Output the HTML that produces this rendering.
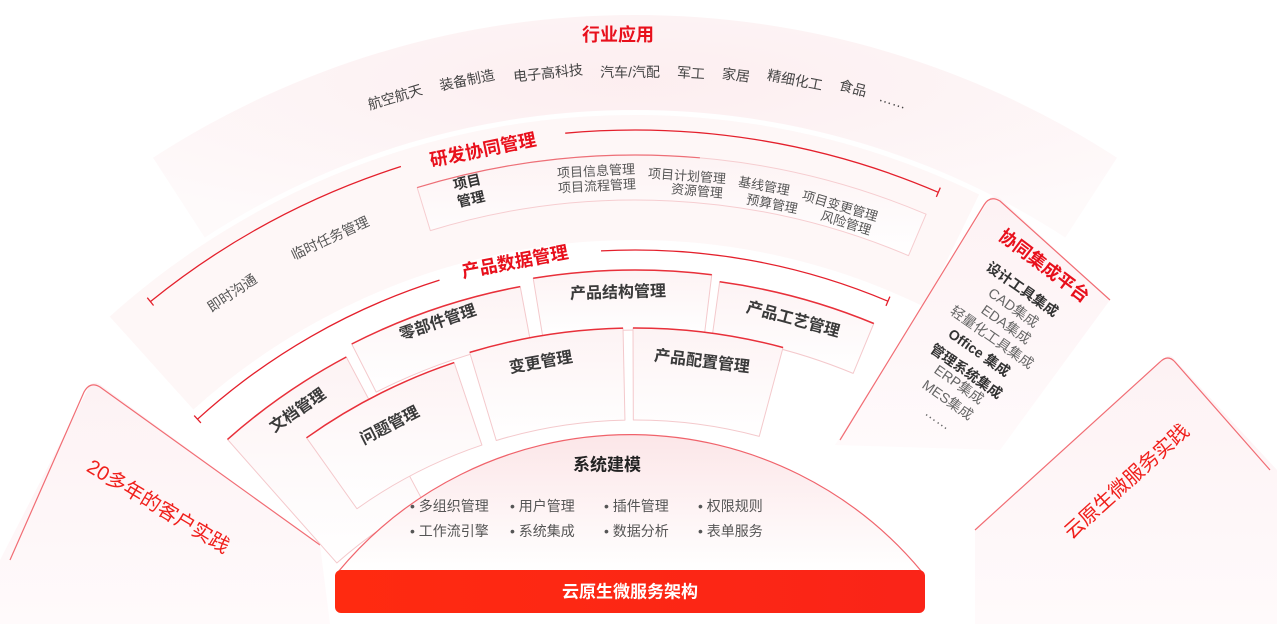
<!DOCTYPE html>
<html><head><meta charset="utf-8">
<style>
html,body{margin:0;padding:0;background:#fff;}
svg{display:block;font-family:"Liberation Sans","Noto Sans CJK SC",sans-serif;}
</style></head>
<body>
<svg id="s" width="1277" height="624" viewBox="0 0 1277 624" xmlns="http://www.w3.org/2000/svg">
<defs>
<radialGradient id="pk" cx="0.5" cy="0.3" r="0.7">
<stop offset="0" stop-color="#fbe3e6"/><stop offset="1" stop-color="#fdf6f7"/></radialGradient>
<linearGradient id="bx" x1="0" y1="0" x2="0" y2="1">
<stop offset="0" stop-color="#fdf3f4"/><stop offset="1" stop-color="#ffffff"/></linearGradient>
<linearGradient id="dome" x1="0" y1="0" x2="0" y2="1">
<stop offset="0" stop-color="#fce6e8"/><stop offset="1" stop-color="#ffffff"/></linearGradient>
<linearGradient id="red" x1="0" y1="0" x2="1" y2="0">
<stop offset="0" stop-color="#ff2a10"/><stop offset="1" stop-color="#fa2418"/></linearGradient>
<linearGradient id="pan" x1="0" y1="0" x2="0" y2="1">
<stop offset="0" stop-color="#fdf2f4"/><stop offset="1" stop-color="#fffafb"/></linearGradient>
</defs>
<g id="bg"></g>
<g id="fg"></g>
</svg>
<script>
var cx=635,cy=900,NS="http://www.w3.org/2000/svg";
function r(d){return d*Math.PI/180}
function P(R,a){return [cx+R*Math.sin(r(a)),cy-R*Math.cos(r(a))]}
function arc(R,a1,a2){var p=P(R,a1),q=P(R,a2);return "M"+p[0].toFixed(1)+","+p[1].toFixed(1)+" A"+R+","+R+" 0 0 1 "+q[0].toFixed(1)+","+q[1].toFixed(1)}
function sector(R1,R2,a1,a2){var a=P(R2,a1),b=P(R2,a2),c=P(R1,a2),d=P(R1,a1);
return "M"+a+" A"+R2+","+R2+" 0 0 1 "+b+" L"+c+" A"+R1+","+R1+" 0 0 0 "+d+" Z"}
function el(g,tag,at,txt){var e=document.createElementNS(NS,tag);for(var k in at)e.setAttribute(k,at[k]);if(txt)e.textContent=txt;document.getElementById(g).appendChild(e);return e}
function T(x,y,s,sz,col,w,ang,anchor){el("fg","text",{x:x,y:y,"font-size":sz,fill:col,"font-weight":w||"normal","text-anchor":anchor||"middle","dominant-baseline":"central",transform:"rotate("+(ang||0)+" "+x+" "+y+")"},s)}
function Ta(x,y,s,sz,col,w,anchor){var a=Math.atan2(x-cx,cy-y)*180/Math.PI;T(x,y,s,sz,col,w,a,anchor)}

el("bg","path",{d:sector(790,885,-33,33),fill:"url(#pk)",opacity:"0.6"});
el("bg","path",{d:sector(660,785,-42,26),fill:"#fdf3f4",opacity:"0.7"});
el("bg","path",{d:"M90,385 Q95,380 102,386 L320,545 L330,624 L0,624 L0,560 Z",fill:"url(#pan)"});
el("bg","path",{d:"M10,560 L84,392 Q90,381 100,387 L320,545",fill:"none",stroke:"#ee4a52","stroke-width":"1.2",opacity:"0.8"});
el("bg","path",{d:"M990,198 Q996,194 1002,200 L1110,300 L1000,450 L835,445 Z",fill:"url(#pan)"});
el("bg","path",{d:"M840,440 L984,205 Q990,195 1000,201 L1110,300",fill:"none",stroke:"#ee4a52","stroke-width":"1.2",opacity:"0.8"});
el("bg","path",{d:"M1165,358 Q1170,353 1175,360 L1277,470 L1277,624 L975,624 L975,530 Z",fill:"url(#pan)"});
el("bg","path",{d:"M975,530 L1160,362 Q1168,354 1175,362 L1270,470",fill:"none",stroke:"#ee4a52","stroke-width":"1.2",opacity:"0.8"});

function bracket(R,a1,a2,a3,a4){
 el("fg","path",{d:arc(R,a1,a2),fill:"none",stroke:"#e4202c","stroke-width":"1.3"});
 el("fg","path",{d:arc(R,a3,a4),fill:"none",stroke:"#e4202c","stroke-width":"1.3"});
 [a1,a4].forEach(function(a){var p=P(R-5,a),q=P(R+5,a);el("fg","path",{d:"M"+p+" L"+q,stroke:"#e4202c","stroke-width":"1.3"})});
}
bracket(770,-39,-17.7,-5.2,23.2);
bracket(650,-42.3,-17.5,-3,22.9);

el("fg","path",{d:sector(700,745,-17,23),fill:"url(#bx)",stroke:"#f6cdd0","stroke-width":"1","stroke-linejoin":"round"});
el("fg","path",{d:arc(745,-17,5),fill:"none",stroke:"#ea4650","stroke-width":"1.2",opacity:"0.7"});

function box(R1,R2,a1,a2){
 el("fg","path",{d:sector(R1,R2,a1,a2),fill:"url(#bx)",stroke:"#f4c9cc","stroke-width":"1","stroke-linejoin":"round"});
 el("fg","path",{d:arc(R2,a1,a2),fill:"none",stroke:"#e8303a","stroke-width":"1.5"});
}
box(450,615,-41.5,-28);
box(570,624,-27,-10.6); box(570,630,-9.3,7); box(570,624,7.8,22.5);
box(480,567,-35.4,-18.6); box(480,572,-16.8,-1.2); box(480,572,-0.2,15);

el("fg","path",{d:"M338,572 A379,379 0 0 1 922,572 Z",fill:"url(#dome)"});
el("fg","path",{d:"M338,572 A379,379 0 0 1 922,572",fill:"none",stroke:"#ec3f48","stroke-width":"1.2",opacity:"0.8"});
el("fg","rect",{x:335,y:570,width:590,height:43,rx:6,fill:"url(#red)"});
T(630,592,"云原生微服务架构",17,"#fff","bold");

T(618,35,"行业应用",18,"#e8101c","bold");
[["航空航天",395,97],["装备制造",467,80],["电子高科技",548,73],["汽车/汽配",630,72],["军工",691,73],["家居",736,75],["精细化工",795,80],["食品",853,88],["……",893,100]].forEach(function(t){Ta(t[1],t[2],t[0],14,"#444")});
Ta(483,150,"研发协同管理",18,"#e8101c","bold");
Ta(467,182,"项目",14,"#333","bold");Ta(471,199,"管理",14,"#333","bold");
[["项目信息管理",596,171],["项目流程管理",597,186],["项目计划管理",687,176],["资源管理",697,191],["基线管理",764,186],["预算管理",772,204],["项目变更管理",840,206],["风险管理",846,223]].forEach(function(t){Ta(t[1],t[2],t[0],13,"#555")});
Ta(330,238,"临时任务管理",14,"#555");
Ta(232,293,"即时沟通",14,"#555");
Ta(515,262,"产品数据管理",18,"#e8101c","bold");
[["零部件管理",438,323],["产品结构管理",618,293],["产品工艺管理",793,320],["文档管理",298,411],["问题管理",390,426],["变更管理",541,363],["产品配置管理",702,362]].forEach(function(t){Ta(t[1],t[2],t[0],16,"#3a3a3a","bold")});
T(607,465,"系统建模",17,"#222","bold");
[["• 多组织管理",410,506],["• 用户管理",510,506],["• 插件管理",604,506],["• 权限规则",698,506],["• 工作流引擎",410,531],["• 系统集成",510,531],["• 数据分析",604,531],["• 表单服务",698,531]].forEach(function(t){T(t[1],t[2],t[0],14,"#555","normal",0,"start")});

T(1044,266,"协同集成平台",18,"#e8101c","bold",37);
var L=[["设计工具集成",988,265,"#333","bold"],["CAD集成",990,291,"#666","normal"],["EDA集成",983,308,"#666","normal"],["轻量化工具集成",952,309,"#666","normal"],["Office 集成",950,332,"#333","bold"],["管理系统集成",932,347,"#333","bold"],["ERP集成",936,368,"#666","normal"],["MES集成",924,383,"#666","normal"],["……",927,410,"#666","normal"]];
L.forEach(function(t){T(t[1],t[2],t[0],14,t[3],t[4],35,"start")});
T(1127,482,"云原生微服务实践",20,"#f0201c","normal",-42);
T(158,507,"20多年的客户实践",20,"#f0201c","normal",31);
</script>
</body></html>
